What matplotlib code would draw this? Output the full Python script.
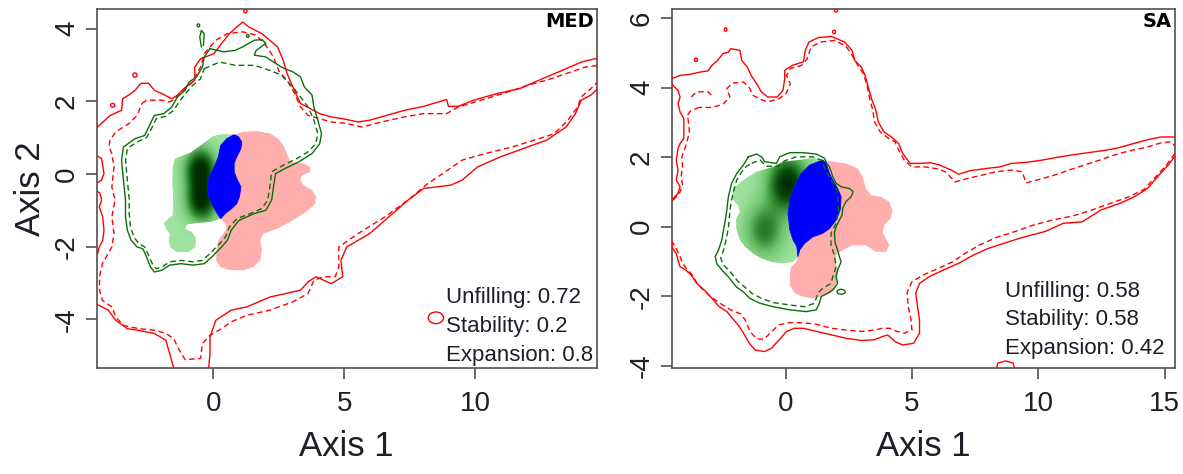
import numpy as np
import matplotlib
matplotlib.use("Agg")
import matplotlib.pyplot as plt
from matplotlib.patches import Polygon, Ellipse
from matplotlib.colors import LinearSegmentedColormap

plt.rcParams['font.family'] = ['Liberation Sans', 'DejaVu Sans']
plt.rcParams['axes.unicode_minus'] = False

# ---------------- MED panel ----------------
med_xlim = (-4.44, 14.62)
med_ylim = (-5.35, 4.54)
med_xticks = [0, 5, 10]
med_yticks = [-4, -2, 0, 2, 4]

# outer environment contour (solid) and its inner level (dashed)
med_red_solid = [
    (-4.41, 1.29), (-3.93, 1.61), (-3.49, 1.75), (-3.45, 2.07), (-3.20, 2.18), (-2.98, 2.30),
    (-2.76, 2.49), (-2.46, 2.50), (-2.24, 2.30), (-1.95, 2.21), (-1.58, 2.07), (-1.36, 2.17),
    (-1.07, 2.38), (-0.70, 2.58), (-0.70, 2.94), (-0.48, 3.17), (0.03, 3.31), (0.32, 3.59),
    (0.62, 3.86), (0.91, 4.05), (1.13, 4.18), (1.35, 4.05), (1.86, 3.86), (2.16, 3.68),
    (2.45, 3.50), (2.67, 3.13), (2.82, 2.76), (3.04, 2.39), (3.33, 1.94), (3.62, 1.83),
    (4.06, 1.66), (4.50, 1.57), (4.94, 1.52), (5.53, 1.43), (5.97, 1.48), (6.41, 1.57),
    (7.29, 1.75), (8.02, 1.86), (8.90, 2.05), (8.97, 1.86), (9.34, 1.86), (9.93, 2.03),
    (10.81, 2.21), (11.69, 2.35), (12.42, 2.58), (13.30, 2.85), (14.03, 3.08), (14.55, 3.17),
    (14.95, 3.13), (14.95, 2.49), (14.72, 2.39), (14.40, 2.17), (14.03, 2.03), (13.81, 1.66),
    (13.45, 1.29), (12.71, 0.93), (11.98, 0.74), (10.95, 0.47), (10.07, 0.19), (9.49, -0.17),
    (9.05, -0.31), (8.02, -0.40), (7.43, -0.72), (6.70, -1.18), (5.97, -1.64), (5.09, -2.01),
    (4.87, -2.38), (4.94, -2.83), (4.50, -3.02), (3.92, -2.83), (3.62, -2.97), (3.33, -3.20),
    (2.16, -3.39), (1.28, -3.66), (0.69, -3.75), (0.10, -4.03), (-0.12, -4.49), (-0.12, -4.94),
    (-0.19, -5.50), (-1.44, -5.50), (-1.66, -4.94), (-1.80, -4.58), (-2.24, -4.39), (-2.90, -4.30),
    (-3.27, -4.26), (-3.71, -4.03), (-4.00, -3.75), (-4.37, -3.61), (-4.80, -3.57), (-4.80, -2.20),
    (-4.40, -2.19), (-4.34, -2.01), (-4.21, -1.83), (-4.16, -1.55), (-4.21, -1.18), (-4.34, -0.91),
    (-4.25, -0.72), (-4.32, -0.52), (-4.45, -0.47), (-4.80, -0.40), (-4.80, -0.25), (-4.45, -0.25),
    (-4.25, -0.17), (-4.16, 0.01), (-4.25, 0.42), (-4.45, 0.51), (-4.80, 0.55), (-4.80, 1.25),
]
med_red_dashed = [
    (-2.71, 1.94), (-2.54, 2.03), (-1.95, 2.03), (-1.66, 1.98), (-1.44, 2.07), (-1.22, 2.26),
    (-0.78, 2.53), (-0.48, 2.94), (-0.34, 3.31), (0.10, 3.68), (0.54, 3.86), (1.13, 3.91),
    (1.64, 3.82), (2.01, 3.54), (2.30, 3.22), (2.52, 2.81), (2.82, 2.58), (3.11, 2.21),
    (3.33, 1.84), (3.62, 1.61), (4.06, 1.52), (4.50, 1.43), (5.09, 1.39), (5.67, 1.29),
    (6.41, 1.43), (7.29, 1.57), (8.02, 1.66), (8.90, 1.66), (9.34, 1.84), (10.22, 2.03),
    (11.25, 2.26), (11.98, 2.44), (12.71, 2.58), (13.45, 2.76), (14.18, 2.94), (14.72, 2.99),
    (15.00, 2.95), (15.00, 2.60), (14.72, 2.58), (14.40, 2.35), (14.03, 2.12), (13.89, 1.84),
    (13.52, 1.48), (13.01, 1.11), (12.42, 0.97), (11.39, 0.74), (10.37, 0.56), (9.49, 0.38),
    (8.75, 0.01), (8.17, -0.27), (7.43, -0.72), (6.55, -1.18), (5.53, -1.64), (4.79, -2.01),
    (4.79, -2.56), (4.65, -2.83), (4.21, -2.83), (3.84, -2.93), (3.62, -3.29), (3.04, -3.52),
    (2.16, -3.75), (1.28, -3.89), (0.69, -4.07), (0.32, -4.26), (-0.12, -4.44), (-0.41, -4.67),
    (-0.48, -5.08), (-1.07, -5.11), (-1.29, -4.85), (-1.51, -4.53), (-1.80, -4.39), (-2.24, -4.30),
    (-2.83, -4.26), (-3.42, -4.17), (-3.71, -3.94), (-3.86, -3.66), (-4.22, -3.48), (-4.33, -3.20),
    (-4.33, -2.83), (-4.22, -2.47), (-4.00, -2.19), (-3.86, -2.01), (-3.78, -1.64), (-3.86, -1.18),
    (-3.74, -0.72), (-3.86, -0.36), (-3.78, 0.19), (-3.86, 0.56), (-3.97, 0.74), (-3.93, 0.93),
    (-3.71, 1.16), (-3.20, 1.39), (-2.90, 1.61),
]
# species contours (native range)
med_green_solid = [
    (-0.12, 3.45), (0.40, 3.36), (0.84, 3.40), (1.13, 3.50), (1.57, 3.68), (1.86, 3.70),
    (2.01, 3.59), (1.64, 3.40), (1.57, 3.27), (2.01, 3.22), (2.60, 2.94), (3.04, 2.81),
    (3.33, 2.67), (3.48, 2.39), (3.77, 2.17), (3.84, 1.84), (3.99, 1.48), (4.13, 1.11),
    (4.06, 0.83), (3.77, 0.56), (3.26, 0.33), (2.74, 0.15), (2.38, 0.01), (2.30, -0.36),
    (2.23, -0.72), (2.01, -1.00), (1.57, -1.09), (0.98, -1.28), (0.69, -1.55), (0.54, -1.83),
    (0.32, -2.01), (-0.04, -2.28), (-0.34, -2.47), (-0.78, -2.51), (-1.22, -2.47), (-1.66, -2.51),
    (-1.95, -2.65), (-2.24, -2.70), (-2.39, -2.56), (-2.54, -2.28), (-2.68, -2.06), (-2.90, -2.01),
    (-3.12, -1.83), (-3.27, -1.55), (-3.34, -1.18), (-3.34, -0.72), (-3.42, -0.17), (-3.49, 0.38),
    (-3.42, 0.74), (-2.98, 0.97), (-2.61, 1.06), (-2.39, 1.39), (-2.24, 1.61), (-1.88, 1.66),
    (-1.58, 1.84), (-1.36, 2.12), (-1.07, 2.30), (-0.92, 2.53), (-0.63, 2.67), (-0.41, 2.94),
    (-0.34, 3.22),
]
med_green_dashed = [
    (-0.34, 2.90), (0.25, 3.08), (0.84, 2.99), (1.57, 2.99), (2.16, 2.85), (2.60, 2.72),
    (3.04, 2.39), (3.33, 2.12), (3.62, 1.84), (3.84, 1.48), (3.99, 1.11), (3.91, 0.83),
    (3.62, 0.61), (3.18, 0.42), (2.67, 0.24), (2.23, 0.06), (2.16, -0.36), (2.08, -0.72),
    (1.86, -0.95), (1.42, -1.09), (0.91, -1.23), (0.62, -1.46), (0.47, -1.73), (0.25, -1.92),
    (-0.12, -2.19), (-0.41, -2.38), (-0.78, -2.42), (-1.22, -2.38), (-1.66, -2.42), (-1.95, -2.56),
    (-2.17, -2.61), (-2.32, -2.47), (-2.46, -2.24), (-2.61, -2.01), (-2.83, -1.92), (-3.01, -1.75),
    (-3.15, -1.46), (-3.20, -1.09), (-3.20, -0.68), (-3.27, -0.17), (-3.34, 0.38), (-3.27, 0.70),
    (-2.90, 0.88), (-2.54, 1.00), (-2.32, 1.29), (-2.17, 1.52), (-1.80, 1.59), (-1.51, 1.75),
    (-1.25, 2.03), (-1.00, 2.26), (-0.78, 2.44), (-0.48, 2.62),
]
med_green_spike = [(-0.45, 3.50), (-0.51, 3.77), (-0.45, 3.95), (-0.34, 3.86), (-0.37, 3.54)]
# niche dynamics areas
med_unfilling = [
    (-1.45, 0.42), (-0.88, 0.58), (-0.37, 0.84), (0.01, 1.04), (0.39, 1.09), (0.80, 1.08),
    (0.52, 0.97), (0.29, 0.79), (0.20, 0.47), (0.04, 0.19), (-0.14, -0.06), (-0.22, -0.34),
    (-0.17, -0.61), (0.01, -0.91), (0.20, -1.14), (0.29, -1.23), (-0.11, -1.32), (-0.62, -1.35),
    (-1.01, -1.39), (-1.07, -1.51), (-0.82, -1.60), (-0.65, -1.78), (-0.69, -2.01), (-0.94, -2.15),
    (-1.36, -2.15), (-1.62, -2.03), (-1.69, -1.83), (-1.64, -1.64), (-1.79, -1.51), (-1.87, -1.35),
    (-1.70, -1.23), (-1.54, -1.14), (-1.51, -0.72), (-1.55, -0.27), (-1.54, 0.19),
]
med_stability = [
    (0.80, 1.08), (0.97, 1.02), (1.09, 0.88), (1.06, 0.70), (0.90, 0.47), (0.80, 0.29),
    (0.80, 0.06), (0.90, -0.13), (1.06, -0.36), (1.00, -0.63), (0.90, -0.82), (0.71, -0.95),
    (0.46, -1.09), (0.29, -1.23), (0.20, -1.14), (0.01, -0.91), (-0.17, -0.61), (-0.22, -0.34),
    (-0.14, -0.06), (0.04, 0.19), (0.20, 0.47), (0.29, 0.79), (0.52, 0.97),
]
med_expansion = [
    (0.80, 1.08), (1.16, 1.16), (1.67, 1.18), (2.18, 1.11), (2.49, 0.97), (2.68, 0.79),
    (2.81, 0.56), (2.94, 0.33), (3.45, 0.29), (3.70, 0.19), (3.70, 0.06), (3.39, -0.04),
    (3.32, -0.17), (3.45, -0.31), (3.77, -0.45), (3.93, -0.63), (3.89, -0.82), (3.70, -0.95),
    (3.45, -1.09), (2.94, -1.32), (2.43, -1.51), (1.92, -1.64), (1.79, -1.83), (1.86, -2.10),
    (1.79, -2.38), (1.54, -2.56), (1.16, -2.65), (0.65, -2.65), (0.27, -2.56), (0.11, -2.38),
    (0.14, -2.01), (0.20, -1.83), (0.39, -1.64), (0.52, -1.51), (0.46, -1.37), (0.29, -1.23),
    (0.55, -0.95), (0.85, -0.63), (0.90, -0.36), (0.70, 0.06), (0.90, 0.70), (0.85, 1.02),
]
# density peaks of the unfilling shading: x, y, height, spread
med_unfill_peaks = [(-0.50, 0.12, 1.0, 0.38), (-0.45, -0.72, 1.0, 0.38)]
# small closed contours: x, y, half-width, half-height
med_red_loops = [(-3.83, 1.89, 0.08, 0.05), (-2.98, 2.72, 0.08, 0.06), (1.23, 4.48, 0.06, 0.05),
                 (8.49, -3.96, 0.29, 0.16)]
med_green_loops = [(-0.56, 4.09, 0.05, 0.04), (1.32, 3.80, 0.05, 0.04)]
med_label = "MED"
med_index_names = ["Unfilling", "Stability", "Expansion"]
med_index_values = ["0.72", "0.2", "0.8"]

# ---------------- SA panel ----------------
sa_xlim = (-4.50, 15.40)
sa_ylim = (-4.07, 6.26)
sa_xticks = [0, 5, 10, 15]
sa_yticks = [-4, -2, 0, 2, 4, 6]

sa_red_solid = [
    (-4.84, 4.24), (-4.50, 4.26), (-4.17, 4.35), (-3.80, 4.38), (-3.36, 4.45), (-3.06, 4.48),
    (-2.91, 4.64), (-2.69, 4.78), (-2.47, 4.98), (-2.25, 5.02), (-2.17, 5.12), (-1.80, 5.07),
    (-1.73, 4.78), (-1.51, 4.59), (-1.36, 4.35), (-1.14, 4.11), (-0.96, 3.88), (-0.70, 3.73),
    (-0.33, 3.73), (-0.10, 3.92), (-0.03, 4.26), (-0.03, 4.50), (0.27, 4.64), (0.71, 4.74),
    (0.78, 5.07), (0.93, 5.31), (1.30, 5.44), (1.82, 5.47), (2.34, 5.31), (2.63, 5.07),
    (2.74, 4.78), (3.00, 4.59), (3.15, 4.35), (3.27, 4.02), (3.42, 3.64), (3.57, 3.35),
    (3.67, 3.01), (3.89, 2.73), (4.19, 2.58), (4.48, 2.39), (4.63, 2.11), (4.93, 1.82),
    (5.30, 1.82), (5.74, 1.84), (6.11, 1.77), (6.55, 1.63), (6.85, 1.51), (7.29, 1.61),
    (7.88, 1.67), (8.48, 1.72), (8.92, 1.82), (9.51, 1.85), (10.10, 1.91), (10.70, 1.99),
    (11.29, 2.06), (11.88, 2.12), (12.47, 2.18), (13.06, 2.25), (13.65, 2.37), (14.25, 2.49),
    (14.84, 2.58), (15.38, 2.58), (15.72, 2.58), (15.72, 2.01), (15.38, 2.01), (15.13, 1.77),
    (14.76, 1.48), (14.32, 1.10), (13.80, 0.86), (13.21, 0.67), (12.47, 0.48), (11.73, 0.14),
    (10.99, 0.10), (10.25, -0.14), (9.36, -0.31), (8.62, -0.48), (8.03, -0.62), (7.44, -0.81),
    (6.85, -1.05), (6.26, -1.24), (5.67, -1.44), (5.30, -1.63), (5.15, -1.91), (5.22, -2.30),
    (5.30, -2.68), (5.30, -3.06), (5.07, -3.35), (4.63, -3.40), (4.33, -3.30), (4.04, -3.11),
    (3.82, -3.16), (3.52, -3.25), (3.00, -3.27), (2.41, -3.21), (1.82, -3.11), (1.23, -3.01),
    (0.71, -2.92), (0.34, -2.92), (0.04, -3.01), (-0.25, -3.25), (-0.55, -3.49), (-0.84, -3.59),
    (-1.21, -3.54), (-1.43, -3.35), (-1.66, -3.06), (-1.88, -2.82), (-2.10, -2.63), (-2.32, -2.44),
    (-2.62, -2.30), (-2.91, -2.06), (-3.21, -1.82), (-3.51, -1.63), (-3.73, -1.39), (-3.95, -1.24),
    (-4.17, -1.15), (-4.25, -0.96), (-4.32, -0.77), (-4.47, -0.62), (-4.50, -0.45), (-4.84, -0.45),
    (-4.84, 0.77), (-4.50, 0.77), (-4.25, 0.96), (-4.17, 1.15), (-4.32, 1.34), (-4.25, 1.63),
    (-4.32, 1.91), (-4.25, 2.25), (-4.17, 2.39), (-4.02, 2.54), (-4.02, 2.87), (-4.02, 3.11),
    (-4.17, 3.30), (-4.25, 3.54), (-4.17, 3.73), (-4.25, 3.92), (-4.39, 4.02), (-4.50, 4.11),
    (-4.84, 4.16),
]
sa_red_dashed = [
    (-3.51, 3.40), (-3.43, 3.43), (-2.91, 3.43), (-2.47, 3.52), (-2.20, 3.73), (-2.32, 3.97),
    (-2.10, 4.13), (-1.66, 4.16), (-1.43, 4.00), (-1.29, 3.78), (-0.99, 3.66), (-0.70, 3.59),
    (-0.25, 3.68), (0.04, 3.85), (0.19, 4.11), (0.04, 4.35), (0.19, 4.55), (0.64, 4.64),
    (0.86, 4.83), (1.01, 5.17), (1.38, 5.31), (1.97, 5.36), (2.41, 5.17), (2.63, 4.93),
    (2.86, 4.64), (3.08, 4.40), (3.22, 4.07), (3.33, 3.68), (3.45, 3.35), (3.52, 3.01),
    (3.74, 2.73), (4.04, 2.56), (4.33, 2.44), (4.48, 2.20), (4.70, 1.91), (5.00, 1.72),
    (5.52, 1.72), (5.96, 1.67), (6.33, 1.58), (6.70, 1.29), (7.22, 1.39), (7.74, 1.48),
    (8.33, 1.58), (8.92, 1.63), (9.36, 1.58), (9.51, 1.26), (10.03, 1.36), (10.62, 1.48),
    (11.21, 1.63), (11.80, 1.77), (12.40, 1.91), (12.99, 2.06), (13.58, 2.18), (14.25, 2.28),
    (14.84, 2.41), (15.21, 2.44), (15.38, 2.34), (15.72, 2.30), (15.72, 2.06), (15.38, 2.09),
    (15.06, 1.77), (14.62, 1.42), (14.17, 1.07), (13.58, 0.86), (12.84, 0.67), (12.03, 0.46),
    (11.36, 0.31), (10.55, 0.19), (9.81, 0.05), (9.07, -0.14), (8.33, -0.31), (7.66, -0.53),
    (7.14, -0.75), (6.63, -1.00), (6.04, -1.20), (5.44, -1.39), (5.00, -1.58), (4.81, -1.89),
    (4.85, -2.28), (4.96, -2.66), (5.00, -2.97), (4.70, -3.06), (4.41, -3.01), (4.11, -2.92),
    (3.82, -2.92), (3.52, -2.97), (3.00, -3.01), (2.41, -2.97), (1.82, -2.92), (1.15, -2.79),
    (0.56, -2.76), (0.12, -2.76), (-0.25, -2.82), (-0.55, -3.01), (-0.84, -3.23), (-1.14, -3.23),
    (-1.41, -3.01), (-1.55, -2.73), (-1.76, -2.51), (-2.17, -2.39), (-2.59, -2.20), (-2.99, -1.99),
    (-3.28, -1.80), (-3.51, -1.61), (-3.68, -1.39), (-3.92, -1.20), (-4.07, -1.05), (-4.17, -0.86),
    (-4.28, -0.69), (-4.39, -0.53), (-4.50, -0.43), (-4.84, -0.43), (-4.84, 0.72), (-4.50, 0.72),
    (-4.32, 0.86), (-4.17, 1.00), (-4.07, 1.20), (-4.13, 1.44), (-4.07, 1.72), (-4.10, 2.01),
    (-3.98, 2.25), (-3.88, 2.49), (-3.80, 2.73), (-3.83, 2.97), (-3.88, 3.21), (-3.73, 3.35),
]
sa_red_dashed_bit = [(-3.73, 3.73), (-3.51, 3.88), (-3.06, 3.88), (-2.91, 3.76)]
sa_green_solid = [
    (-1.47, 2.01), (-1.14, 2.09), (-0.95, 2.01), (-0.82, 1.87), (-0.36, 1.82), (-0.23, 2.01),
    (0.17, 2.13), (0.69, 2.13), (1.21, 2.09), (1.54, 1.97), (1.63, 1.82), (1.74, 1.72),
    (1.87, 1.44), (2.00, 1.25), (2.20, 1.15), (2.52, 1.10), (2.68, 1.01), (2.59, 0.86),
    (2.39, 0.72), (2.26, 0.53), (2.24, 0.34), (2.13, 0.19), (2.00, 0.00), (1.93, -0.19),
    (1.97, -0.48), (2.06, -0.67), (2.13, -0.86), (2.20, -1.01), (2.06, -1.24), (2.00, -1.44),
    (2.06, -1.63), (1.87, -1.82), (1.67, -1.91), (1.41, -2.01), (1.34, -2.20), (1.21, -2.39),
    (0.82, -2.44), (0.17, -2.39), (-0.49, -2.30), (-1.01, -2.20), (-1.41, -2.06), (-1.67, -1.87),
    (-1.93, -1.74), (-2.26, -1.44), (-2.52, -1.24), (-2.72, -1.06), (-2.78, -0.86), (-2.65, -0.67),
    (-2.52, -0.38), (-2.45, -0.09), (-2.38, 0.19), (-2.32, 0.48), (-2.26, 0.86), (-2.13, 1.25),
    (-1.93, 1.53), (-1.67, 1.77),
]
sa_green_dashed = [
    (-1.34, 1.82), (-1.01, 1.92), (-0.75, 1.74), (-0.29, 1.74), (-0.03, 1.90), (0.43, 2.01),
    (1.08, 2.01), (1.47, 1.90), (1.54, 1.68), (1.80, 1.34), (2.00, 1.15), (2.06, 0.86),
    (2.10, 0.48), (2.00, 0.10), (1.80, -0.19), (1.80, -0.53), (1.93, -0.81), (2.00, -1.15),
    (1.87, -1.44), (1.80, -1.63), (1.47, -1.77), (1.28, -1.91), (1.15, -2.20), (0.75, -2.30),
    (0.17, -2.25), (-0.49, -2.18), (-0.95, -2.06), (-1.34, -1.91), (-1.60, -1.74), (-1.87, -1.58),
    (-2.19, -1.29), (-2.45, -1.10), (-2.56, -0.91), (-2.45, -0.67), (-2.35, -0.38), (-2.26, -0.05),
    (-2.22, 0.29), (-2.17, 0.62), (-2.06, 1.01), (-1.93, 1.34), (-1.73, 1.58), (-1.54, 1.74),
]
sa_unfilling = [
    (-2.06, 1.10), (-1.67, 1.34), (-1.14, 1.58), (-0.49, 1.72), (-0.10, 1.87), (0.56, 1.92),
    (1.08, 1.97), (1.47, 1.92), (0.95, 1.77), (0.62, 1.53), (0.36, 1.15), (0.17, 0.77),
    (0.10, 0.38), (0.17, -0.09), (0.30, -0.38), (0.45, -0.57), (0.49, -0.86), (0.30, -1.01),
    (-0.10, -1.05), (-0.56, -1.01), (-0.95, -0.91), (-1.28, -0.77), (-1.60, -0.57), (-1.80, -0.38),
    (-1.93, -0.09), (-1.96, 0.19), (-1.80, 0.43), (-1.87, 0.62), (-2.06, 0.77), (-2.09, 0.96),
]
sa_stability = [
    (1.47, 1.92), (1.61, 1.82), (1.74, 1.53), (1.87, 1.34), (2.06, 1.10), (2.20, 0.86),
    (2.16, 0.48), (2.00, 0.19), (1.74, -0.05), (1.47, -0.19), (1.08, -0.29), (0.75, -0.48),
    (0.56, -0.67), (0.49, -0.86), (0.45, -0.57), (0.30, -0.38), (0.17, -0.09), (0.10, 0.38),
    (0.17, 0.77), (0.36, 1.15), (0.62, 1.53), (0.95, 1.77),
]
sa_expansion = [
    (1.47, 1.92), (1.87, 1.87), (2.39, 1.82), (2.85, 1.68), (3.05, 1.44), (3.18, 1.10),
    (3.38, 0.91), (3.77, 0.86), (4.10, 0.72), (4.23, 0.48), (4.16, 0.24), (3.90, 0.05),
    (3.84, -0.19), (3.97, -0.33), (4.10, -0.53), (3.97, -0.72), (3.57, -0.72), (3.18, -0.53),
    (2.65, -0.53), (2.26, -0.67), (2.00, -0.81), (2.00, -1.15), (2.06, -1.39), (2.00, -1.63),
    (1.80, -1.91), (1.41, -2.01), (1.08, -2.06), (0.69, -2.01), (0.36, -1.91), (0.17, -1.68),
    (0.17, -1.34), (0.23, -1.15), (0.43, -1.01), (0.49, -0.86), (0.52, -0.60), (0.75, -0.30),
    (1.08, -0.10), (1.74, 0.10), (2.00, 0.48), (1.95, 1.10), (1.55, 1.82),
]
sa_unfill_peaks = [(0.05, 1.20, 1.0, 0.52), (-0.85, -0.10, 0.55, 0.50)]
sa_red_loops = [(-3.54, 4.80, 0.06, 0.05), (-2.37, 5.67, 0.05, 0.05), (1.92, 5.60, 0.06, 0.05),
                (2.00, 6.22, 0.06, 0.05)]
sa_red_arc = [(8.33, -4.20), (8.33, -4.11), (8.40, -3.92), (8.70, -3.86), (9.00, -3.92),
              (9.07, -4.11), (9.07, -4.20)]
sa_green_loops = [(2.20, -1.87, 0.16, 0.07)]
sa_label = "SA"
sa_index_names = ["Unfilling", "Stability", "Expansion"]
sa_index_values = ["0.58", "0.58", "0.42"]

# ---------------- style ----------------
RED = "#ff0000"
GREEN_LINE = "#0a6e0a"
PINK = "#ffadad"
BLUE = "#0000ff"
GREEN_LIGHT = "#9fe39f"
AXIS_COL = "#505050"
TEXT_COL = "#1e1e28"
DASH = (0, (4, 2.5))
green_cmap = LinearSegmentedColormap.from_list(
    "unfill", ["#9fe39f", "#6cc06c", "#2f862f", "#0b4f0b", "#002c00"])


def closed(pts):
    arr = np.array(pts + [pts[0]])
    return arr[:, 0], arr[:, 1]


def shaded_area(ax, pts, peaks):
    patch = Polygon(pts, closed=True, facecolor=GREEN_LIGHT, edgecolor="none", lw=0, zorder=2)
    ax.add_patch(patch)
    xs = [p[0] for p in pts]
    ys = [p[1] for p in pts]
    gx = np.linspace(min(xs), max(xs), 300)
    gy = np.linspace(min(ys), max(ys), 300)
    gxx, gyy = np.meshgrid(gx, gy)
    dens = np.zeros_like(gxx)
    for px, py, h, s in peaks:
        dens += h * np.exp(-((gxx - px) ** 2 + (gyy - py) ** 2) / (2 * s * s))
    im = ax.imshow(dens, extent=(min(xs), max(xs), min(ys), max(ys)), origin="lower",
                   cmap=green_cmap, vmin=0, vmax=1, aspect="auto", interpolation="bilinear",
                   zorder=2.1)
    im.set_clip_path(patch)


def draw_panel(ax, xlim, ylim, xticks, yticks, red_solid, red_dashed, green_solid, green_dashed,
               unfill, stab, expan, peaks, red_loops, green_loops, label, names, values,
               text_x, text_y):
    ax.add_patch(Polygon(expan, closed=True, facecolor=PINK, edgecolor="none", lw=0, zorder=1.5))
    shaded_area(ax, unfill, peaks)
    ax.add_patch(Polygon(stab, closed=True, facecolor=BLUE, edgecolor=BLUE, lw=0.6, zorder=3))

    ax.plot(*closed(red_solid), color=RED, lw=1.0, zorder=4)
    ax.plot(*closed(red_dashed), color=RED, lw=1.0, ls=DASH, zorder=4)
    ax.plot(*closed(green_solid), color=GREEN_LINE, lw=1.0, zorder=4)
    ax.plot(*closed(green_dashed), color=GREEN_LINE, lw=1.0, ls=DASH, zorder=4)
    for x, y, rx, ry in red_loops:
        ax.add_patch(Ellipse((x, y), 2 * rx, 2 * ry, fill=False, ec=RED, lw=1.0, zorder=4))
    for x, y, rx, ry in green_loops:
        ax.add_patch(Ellipse((x, y), 2 * rx, 2 * ry, fill=False, ec=GREEN_LINE, lw=1.0, zorder=4))

    ax.set_xlim(*xlim)
    ax.set_ylim(*ylim)
    ax.set_xticks(xticks)
    ax.set_yticks(yticks)
    ax.tick_params(direction="out", length=8, width=1.2, color=AXIS_COL, labelsize=20,
                   labelcolor=TEXT_COL)
    ax.tick_params(axis="x", pad=8)
    ax.tick_params(axis="y", pad=4)
    for lab in ax.get_yticklabels():
        lab.set_rotation(90)
        lab.set_va("center")
    for sp in ax.spines.values():
        sp.set_color(AXIS_COL)
        sp.set_linewidth(1.2)
    ax.set_xlabel("Axis 1", fontsize=25, color=TEXT_COL, labelpad=10)

    ax.text(0.994, 0.965, label, transform=ax.transAxes, ha="right", va="center",
            fontsize=14, fontweight="bold", family="DejaVu Sans", color="black", zorder=6)
    for name, val, ty in zip(names, values, text_y):
        ax.text(text_x, ty, f"{name}: {val}", ha="left", va="center", fontsize=16,
                color=TEXT_COL, zorder=6)


fig = plt.figure(figsize=(11.83, 4.74), dpi=100)
ax1 = fig.add_axes([0.0817, 0.223, 0.4227, 0.758])
ax2 = fig.add_axes([0.5678, 0.223, 0.4254, 0.758])

draw_panel(ax1, med_xlim, med_ylim, med_xticks, med_yticks, med_red_solid, med_red_dashed,
           med_green_solid, med_green_dashed, med_unfilling, med_stability, med_expansion,
           med_unfill_peaks, med_red_loops, med_green_loops, med_label, med_index_names,
           med_index_values, 8.87, [-3.39, -4.21, -4.99])
ax1.plot(*zip(*med_green_spike), color=GREEN_LINE, lw=1.0, zorder=4)
ax1.set_ylabel("Axis 2", fontsize=25, color=TEXT_COL, labelpad=5)

draw_panel(ax2, sa_xlim, sa_ylim, sa_xticks, sa_yticks, sa_red_solid, sa_red_dashed,
           sa_green_solid, sa_green_dashed, sa_unfilling, sa_stability, sa_expansion,
           sa_unfill_peaks, sa_red_loops, sa_green_loops, sa_label, sa_index_names,
           sa_index_values, 8.67, [-1.85, -2.68, -3.49])
ax2.plot(*zip(*sa_red_arc), color=RED, lw=1.0, zorder=4)
ax2.plot(*zip(*sa_red_dashed_bit), color=RED, lw=1.0, ls=DASH, zorder=4)

fig.savefig("out.png", dpi=100)
